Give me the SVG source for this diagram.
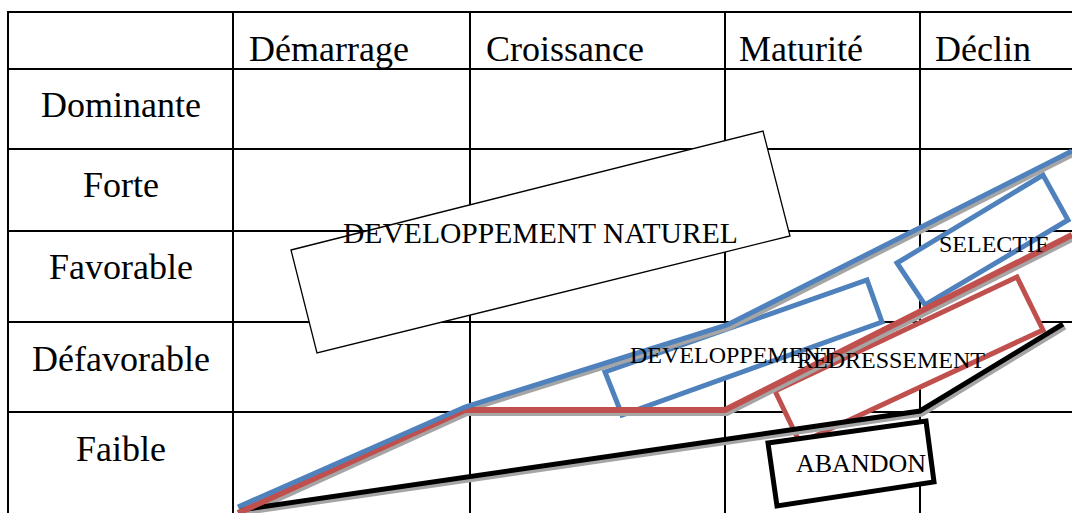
<svg xmlns="http://www.w3.org/2000/svg" width="1072" height="513" viewBox="0 0 1072 513">
  <style>
    .grid { stroke: #000; stroke-width: 2; fill: none; }
    .hdr { font-family: "Liberation Serif", "Times New Roman", serif; font-size: 36px; fill: #000; }
    .row { font-family: "Liberation Serif", "Times New Roman", serif; font-size: 36px; fill: #000; text-anchor: middle; }
    .lbl { font-family: "Liberation Serif", "Times New Roman", serif; font-size: 24px; fill: #000; }
    .shadow { fill: none; stroke: #a5a5a5; stroke-linejoin: miter; }
    .curve { fill: none; stroke-linejoin: miter; }
  </style>
  <rect width="1072" height="513" fill="#fff"/>

  <!-- table grid -->
  <g id="grid" class="grid">
    <line x1="8" y1="12" x2="1072" y2="12"/>
    <line x1="8" y1="69" x2="1072" y2="69"/>
    <line x1="8" y1="149" x2="1072" y2="149"/>
    <line x1="8" y1="231" x2="1072" y2="231"/>
    <line x1="8" y1="322" x2="1072" y2="322"/>
    <line x1="8" y1="412" x2="1072" y2="412"/>
    <line x1="8" y1="11" x2="8" y2="513"/>
    <line x1="233" y1="11" x2="233" y2="513"/>
    <line x1="470" y1="11" x2="470" y2="513"/>
    <line x1="725" y1="11" x2="725" y2="513"/>
    <line x1="920" y1="11" x2="920" y2="513"/>
  </g>

  <!-- column headers -->
  <g id="headers">
    <text class="hdr" x="249" y="61">Démarrage</text>
    <text class="hdr" x="486" y="61">Croissance</text>
    <text class="hdr" x="739" y="61">Maturité</text>
    <text class="hdr" x="935" y="61">Déclin</text>
  </g>

  <!-- row headers -->
  <g id="rows">
    <text class="row" x="121" y="117">Dominante</text>
    <text class="row" x="121" y="197">Forte</text>
    <text class="row" x="121" y="279">Favorable</text>
    <text class="row" x="121" y="371">Défavorable</text>
    <text class="row" x="121" y="461">Faible</text>
  </g>

  <!-- strategy zones -->
  <g id="dev-naturel">
    <polygon points="291,250 763,131 790,236 317,353" fill="#fff" stroke="#000" stroke-width="1.3"/>
  </g>
  <g id="selectif">
    <polygon points="897,263 1043,175 1068,220 925,305" fill="#fff" stroke="#4f81bd" stroke-width="5"/>
  </g>
  <g id="developpement">
    <polygon points="605,372 867,280 882,322 622,415" fill="#fff" stroke="#4f81bd" stroke-width="5"/>
  </g>
  <g id="redressement">
    <polygon points="775,391 1017,277 1043,330 800,443" fill="#fff" stroke="#c0504d" stroke-width="5"/>
  </g>
  <g id="abandon">
    <polygon points="768,443 926,421 934,482 777,506" fill="#fff" stroke="#000" stroke-width="5"/>
  </g>

  <!-- trajectories -->
  <g id="connectors">
    <g transform="translate(2,3)">
      <path class="shadow" stroke-width="5" d="M240,510 L920,411 L1063,324"/>
      <path class="shadow" stroke-width="6" d="M238,513 L465,410 L725,410 L1072,235"/>
      <path class="shadow" stroke-width="5" d="M238,507 L465,407 L727,325 L1072,151"/>
    </g>
    <path class="curve" stroke="#000" stroke-width="5" d="M240,510 L920,411 L1063,324"/>
    <path class="curve" stroke="#c0504d" stroke-width="6" d="M238,513 L465,410 L725,410 L1072,235"/>
    <path class="curve" stroke="#4f81bd" stroke-width="5" d="M238,507 L465,407 L727,325 L1072,151"/>
  </g>

  <!-- zone labels -->
  <g id="labels">
    <text class="lbl" x="343" y="243" style="font-size:29.6px">DEVELOPPEMENT NATUREL</text>
    <text class="lbl" x="939" y="252">SELECTIF</text>
    <text class="lbl" x="630" y="363">DEVELOPPEMENT</text>
    <text class="lbl" x="797" y="368">REDRESSEMENT</text>
    <text class="lbl" x="796" y="472" style="font-size:26px">ABANDON</text>
  </g>
</svg>
